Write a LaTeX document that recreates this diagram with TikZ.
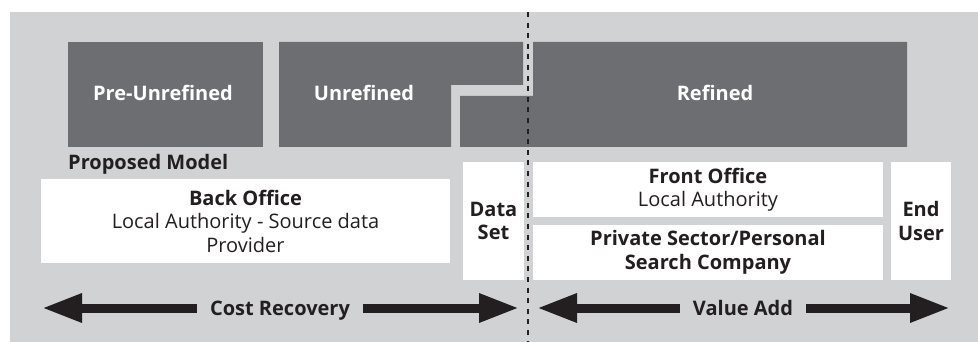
\documentclass[tikz,border=0pt]{standalone}
\usepackage{fontspec}
\setmainfont{Open Sans}
\usetikzlibrary{arrows.meta}
\definecolor{panelgray}{HTML}{D1D2D4}
\definecolor{stagegray}{HTML}{6D6E71}
\definecolor{ink}{HTML}{231F20}
\newcommand{\labelsize}{\fontsize{20}{23.5}\selectfont}
\begin{document}
\begin{tikzpicture}[x=1pt,y=-1pt,
  stage/.style={fill=stagegray,draw=none},
  stagelabel/.style={text=white,font=\bfseries\labelsize,anchor=base,inner sep=0pt},
  whitebox/.style={fill=white,draw=none,inner sep=0pt,align=center,text=ink,
    font=\labelsize},
  boldbox/.style={whitebox,font=\bfseries\labelsize},
  bigarrow/.style={draw=ink,line width=9pt,-{Triangle[length=40pt,width=27pt]}},
  arrowlabel/.style={text=ink,font=\bfseries\labelsize,anchor=base,inner xsep=13pt,inner ysep=0pt},
  divider/.style={draw=ink,line width=2.5pt,dash pattern=on 5pt off 5.6pt},
]
\useasboundingbox (0,0) rectangle (978,342);
% panel
\fill[panelgray] (10,12) rectangle (978,342);

% stages of refinement
\node[stage,minimum width=195pt,minimum height=105pt,inner sep=0pt] (pre) at (165.5,94.5) {};
\fill[stage] (279,42) -- (523,42) -- (523,85) -- (451,85) -- (451,147) -- (279,147) -- cycle;
\fill[stage] (533,42) -- (907,42) -- (907,147) -- (460,147) -- (460,96) -- (533,96) -- cycle;
\node[stagelabel] (prelabel) at (163,100.5) {Pre-Unrefined};
\node[stagelabel] (unref) at (364,100.5) {Unrefined};
\node[stagelabel] (refined) at (715,100.5) {Refined};

% proposed model
\node[text=ink,font=\bfseries\labelsize,anchor=base west,inner sep=0pt] (model) at (68,170) {Proposed Model};

\node[whitebox,minimum width=409pt,minimum height=84pt] (back) at (245.5,221)
  {{\bfseries Back Office}\\Local Authority - Source data\\Provider};
\node[boldbox,minimum width=61pt,minimum height=118pt] (data) at (493.5,221)
  {Data\\Set};
\node[whitebox,minimum width=350pt,minimum height=55pt] (front) at (708,190)
  {{\bfseries Front Office}\\Local Authority};
\node[boldbox,minimum width=350pt,minimum height=55pt] (private) at (708,252.5)
  {Private Sector/Personal\\Search Company};
\node[boldbox,minimum width=60pt,minimum height=118pt] (enduser) at (921,221)
  {End\\User};

% value arrows
\coordinate (crL) at (42,308);
\coordinate (crR) at (519,308);
\coordinate (vaL) at (537,308);
\coordinate (vaR) at (950,308);
\node[arrowlabel] (cost) at (280,315.5) {Cost Recovery};
\node[arrowlabel] (value) at (743,315) {Value Add};
\draw[bigarrow] (cost.west |- crL) -- (crL);
\draw[bigarrow] (cost.east |- crR) -- (crR);
\draw[bigarrow] (value.west |- vaL) -- (vaL);
\draw[bigarrow] (value.east |- vaR) -- (vaR);

% public / private divide
\coordinate (divtop) at (528,12);
\coordinate (divbot) at (528,342);
\draw[divider] (divtop) -- (divbot);
\end{tikzpicture}
\end{document}
